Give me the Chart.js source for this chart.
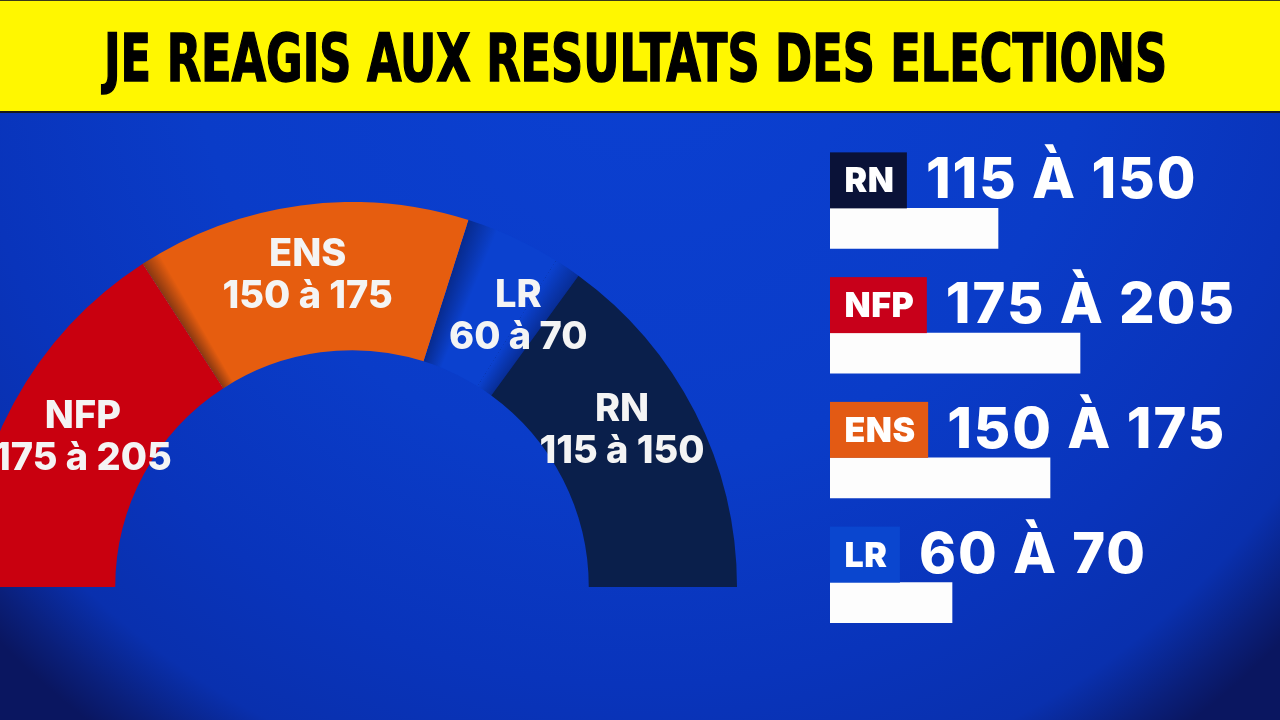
<!DOCTYPE html>
<html lang="fr">
<head>
<meta charset="utf-8">
<title>Résultats des élections</title>
<script src="https://cdn.jsdelivr.net/npm/chart.js@4.4.1/dist/chart.umd.min.js"></script>
<style>
    html, body { margin: 0; padding: 0; }
    body {
        width: 1280px;
        height: 720px;
        overflow: hidden;
        position: relative;
        background: radial-gradient(circle 900px at 640px 10px, #0b40d2 0%, #0a3cc8 50%, #0934bb 75%, #0930ae 89%, #0a1f7a 96%, #0a1660 100%);
    }
    #bandeau {
        position: absolute;
        left: 0;
        top: 0;
        width: 1280px;
        height: 113px;
        background: #fff700;
        border-top: 1px solid #3a3a1a;
        border-bottom: 2px solid #1a1a1a;
        box-sizing: border-box;
    }
    #titre {
        position: absolute;
        left: 104px;
        top: 26px;
        font-family: 'Liberation Sans Narrow', 'DejaVu Sans Condensed', sans-serif;
        font-weight: bold;
        font-size: 66px;
        line-height: 66px;
        color: #000;
        white-space: nowrap;
        -webkit-text-stroke: 1.5px #000;
        transform-origin: left top;
    }
    #hemicycle { position: absolute; left: -33px; top: 202px; }
    #barres { position: absolute; left: 830px; top: 140px; }
</style>
</head>
<body>
<div id="bandeau"></div>
<div id="titre">JE REAGIS AUX RESULTATS DES ELECTIONS</div>
<canvas id="hemicycle" width="770" height="385"></canvas>
<canvas id="barres" width="450" height="525"></canvas>

<script>
// projections en sièges
const partis = ['NFP', 'ENS', 'LR', 'RN']
const sieges = [183, 162, 59, 173]
const fourchetteMin = [175, 150, 60, 115]
const fourchetteMax = [205, 175, 70, 150]

// barres de droite
const ordreBarres = ['RN', 'NFP', 'ENS', 'LR']
const barres = [84, 125, 110, 61]

const couleurs = {
    NFP: '#c9000f',
    ENS: '#e65d0f',
    LR: '#0b41cf',
    RN: '#0a1f4b'
}
const couleursCartouche = {
    NFP: '#c8001a',
    ENS: '#e35a14',
    LR: '#0a46cf',
    RN: '#0a1238'
}
// petit decalage des etiquettes LR et RN qui se touchent
const decalage = {
    NFP: [4, 0],
    ENS: [-3, -3],
    LR: [26, 7],
    RN: [-7, -15]
}

function fourchette(parti, sep) {
    let i = partis.indexOf(parti)
    return `${fourchetteMin[i]} ${sep} ${fourchetteMax[i]}`
}

// largeur du titre
let titre = document.getElementById('titre')
titre.style.transform = `scaleX(${1063 / titre.offsetWidth})`


// hemicycle

// ombre portée d'un secteur sur son voisin
function ombre(ctx, arc, debut, largeur, versFin, force) {
    const a0 = versFin ? debut - largeur : debut
    const a1 = a0 + largeur
    const g = ctx.createConicGradient(a0, arc.x, arc.y)
    const t = largeur / (2 * Math.PI)
    if (versFin) {
        g.addColorStop(0, 'rgba(0,0,20,0)')
        g.addColorStop(t, `rgba(0,0,20,${force})`)
    } else {
        g.addColorStop(0, `rgba(0,0,20,${force})`)
        g.addColorStop(t, 'rgba(0,0,20,0)')
    }
    ctx.beginPath()
    ctx.arc(arc.x, arc.y, arc.outerRadius, a0, a1)
    ctx.arc(arc.x, arc.y, arc.innerRadius, a1, a0, true)
    ctx.closePath()
    ctx.fillStyle = g
    ctx.fill()
}

const ombres = {
    id: 'ombres',
    afterDatasetsDraw(chart) {
        const ctx = chart.ctx
        const arcs = chart.getDatasetMeta(0).data
        ctx.save()
        ombre(ctx, arcs[1], arcs[1].startAngle, 0.05, false, 0.4)
        ombre(ctx, arcs[2], arcs[2].startAngle, 0.08, false, 0.35)
        ombre(ctx, arcs[2], arcs[3].startAngle, 0.07, true, 0.3)
        ctx.restore()
    }
}

const etiquettesArcs = {
    id: 'etiquettesArcs',
    afterDatasetsDraw(chart) {
        const ctx = chart.ctx
        const meta = chart.getDatasetMeta(0)
        ctx.save()
        ctx.fillStyle = '#f4f4f4'
        ctx.textAlign = 'center'
        ctx.textBaseline = 'alphabetic'
        ctx.font = '800 38px Inter'
        ctx.letterSpacing = '0px'
        meta.data.forEach((arc, i) => {
            const p = arc.getCenterPoint()
            const d = decalage[partis[i]]
            const x = p.x + d[0]
            const y = p.y + d[1]
            ctx.fillText(partis[i], x, y - 10)
            ctx.fillText(fourchette(partis[i], 'à'), x, y + 32)
        })
        ctx.restore()
    }
}

var ctxH = document.getElementById('hemicycle')

myChartH = new Chart(ctxH, {
    type: 'doughnut',
    data: {
        labels: partis,
        datasets: [{
            data: sieges,
            backgroundColor: partis.map(p => couleurs[p]),
            borderWidth: 0
        }]
    },
    options: {
        responsive: false,
        animation: false,
        rotation: -90,
        circumference: 180,
        cutout: '61.5%',
        layout: { padding: 0 },
        plugins: {
            legend: { display: false },
            tooltip: { enabled: false }
        }
    },
    plugins: [ombres, etiquettesArcs]
})


// barres

const cartouches = {
    id: 'cartouches',
    afterDatasetsDraw(chart) {
        const ctx = chart.ctx
        const meta = chart.getDatasetMeta(0)
        const gauche = chart.chartArea.left
        ctx.save()
        meta.data.forEach((barre, i) => {
            const parti = ordreBarres[i]
            const haut = barre.y - barre.height / 2
            ctx.font = '900 34px Inter'
            ctx.letterSpacing = '0.5px'
            const larg = ctx.measureText(parti).width + 27
            ctx.fillStyle = couleursCartouche[parti]
            ctx.fillRect(gauche, haut - 56, larg, 56)
            ctx.fillStyle = '#ffffff'
            ctx.textAlign = 'center'
            ctx.fillText(parti, gauche + larg / 2 + 1, haut - 16)
            ctx.textAlign = 'left'
            ctx.font = '800 56px Inter'
            ctx.letterSpacing = '2px'
            ctx.fillText(fourchette(parti, 'À'), gauche + larg + 19, haut - 10)
        })
        ctx.restore()
    }
}

var ctxB = document.getElementById('barres')

myChartB = new Chart(ctxB, {
    type: 'bar',
    data: {
        labels: ordreBarres,
        datasets: [{
            data: barres,
            backgroundColor: '#fdfdfd',
            borderWidth: 0,
            barThickness: 40
        }]
    },
    options: {
        indexAxis: 'y',
        responsive: false,
        animation: false,
        layout: { padding: { top: 26, bottom: 0, left: 0, right: 0 } },
        scales: {
            x: { display: false, min: 0, max: 225 },
            y: { display: false }
        },
        plugins: {
            legend: { display: false },
            tooltip: { enabled: false }
        }
    },
    plugins: [cartouches]
})
</script>
</body>
</html>
